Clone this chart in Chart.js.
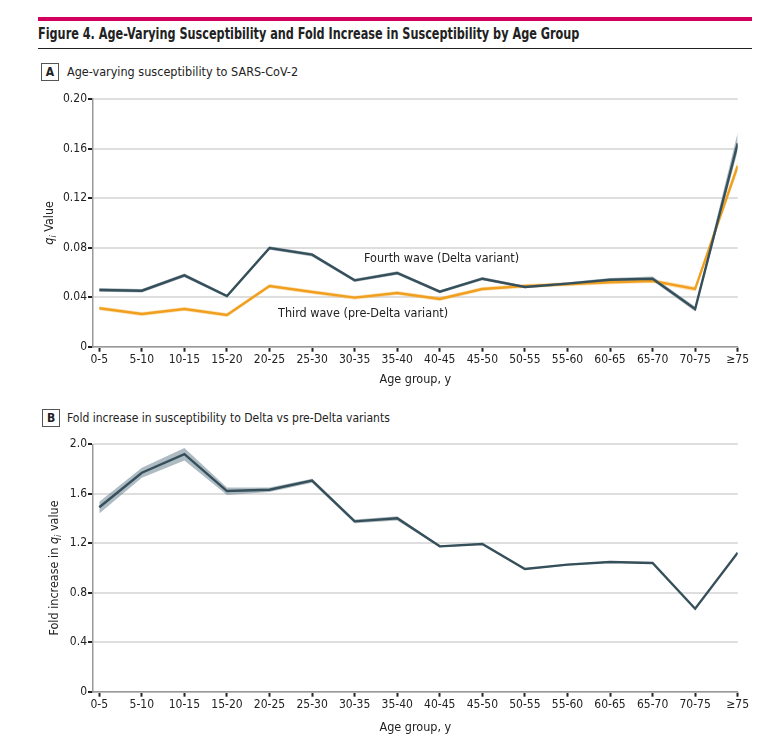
<!DOCTYPE html>
<html>
<head>
<meta charset="utf-8">
<script src="https://cdn.jsdelivr.net/npm/chart.js@4"></script>
<style>
    body { margin: 0; background: #fff; width: 769px; height: 747px; position: relative; overflow: hidden;
           font-family: 'DejaVu Sans Condensed', 'Liberation Sans Narrow', sans-serif; color: #222; }
    .abs { position: absolute; }
    .bar { left: 38px; top: 17px; width: 714px; height: 4px; background: #d4005f; }
    .rule { left: 38px; top: 47.5px; width: 714px; height: 1.5px; background: #222; }
    .fit { display: inline-block; white-space: nowrap; transform-origin: left center; }
    #title { left: 38px; top: 25px; font-size: 15px; font-weight: bold; line-height: 18px; }
    .box { width: 18px; height: 18px; box-sizing: border-box; border: 1px solid #555; font-size: 12px;
           font-weight: bold; text-align: center; line-height: 16px; }
    .head { font-size: 13px; line-height: 16px; }
    canvas { position: absolute; left: 0; }
</style>
</head>
<body>
<div class="abs bar"></div>
<div class="abs fit" id="title">Figure 4. Age-Varying Susceptibility and Fold Increase in Susceptibility by Age Group</div>
<div class="abs rule"></div>

<div class="abs box" style="left:41px; top:63px;">A</div>
<div class="abs fit head" id="headA" style="left:67px; top:64px;">Age-varying susceptibility to SARS-CoV-2</div>
<canvas id="chartA" width="769" height="305" style="top:85px;"></canvas>

<div class="abs box" style="left:42px; top:409px;">B</div>
<div class="abs fit head" id="headB" style="left:67px; top:410px;">Fold increase in susceptibility to Delta vs pre-Delta variants</div>
<canvas id="chartB" width="769" height="306" style="top:432px;"></canvas>

<script>
// data
const ageGroups = ['0-5', '5-10', '10-15', '15-20', '20-25', '25-30', '30-35', '35-40',
                   '40-45', '45-50', '50-55', '55-60', '60-65', '65-70', '70-75', '≥75'];

const fourthWave     = [0.0458, 0.0452, 0.0576, 0.0409, 0.0797, 0.0743, 0.0536, 0.0595, 0.0444, 0.0549, 0.0482, 0.0509, 0.0541, 0.0549, 0.0304, 0.1642];
const fourthWaveLow  = [0.0443, 0.0438, 0.0561, 0.0398, 0.0782, 0.0729, 0.0523, 0.0581, 0.0432, 0.0536, 0.0471, 0.0497, 0.0527, 0.0532, 0.0285, 0.1580];
const fourthWaveHigh = [0.0473, 0.0466, 0.0591, 0.0420, 0.0812, 0.0757, 0.0549, 0.0609, 0.0456, 0.0562, 0.0493, 0.0521, 0.0555, 0.0566, 0.0323, 0.1730];

const thirdWave     = [0.0310, 0.0264, 0.0304, 0.0256, 0.0490, 0.0442, 0.0396, 0.0434, 0.0385, 0.0466, 0.0490, 0.0504, 0.0520, 0.0530, 0.0466, 0.1459];
const thirdWaveLow  = [0.0294, 0.0248, 0.0288, 0.0240, 0.0474, 0.0426, 0.0380, 0.0418, 0.0369, 0.0450, 0.0474, 0.0488, 0.0504, 0.0514, 0.0445, 0.1420];
const thirdWaveHigh = [0.0326, 0.0280, 0.0320, 0.0272, 0.0506, 0.0458, 0.0412, 0.0450, 0.0401, 0.0482, 0.0506, 0.0520, 0.0536, 0.0546, 0.0487, 0.1500];

const foldIncrease     = [1.491, 1.770, 1.921, 1.622, 1.633, 1.706, 1.377, 1.402, 1.175, 1.194, 0.992, 1.027, 1.048, 1.040, 0.671, 1.124];
const foldIncreaseLow  = [1.440, 1.730, 1.870, 1.590, 1.615, 1.690, 1.362, 1.385, 1.168, 1.188, 0.986, 1.021, 1.042, 1.034, 0.665, 1.118];
const foldIncreaseHigh = [1.535, 1.810, 1.970, 1.650, 1.650, 1.722, 1.392, 1.418, 1.182, 1.200, 0.998, 1.033, 1.054, 1.046, 0.677, 1.130];

const yTicksA = ['0', '0.04', '0.08', '0.12', '0.16', '0.20'];
const yTicksB = ['0', '0.4', '0.8', '1.2', '1.6', '2.0'];

const DARK = '#36505b';
const DARK_BAND = 'rgba(110, 132, 143, 0.55)';
const ORANGE = '#f0a01e';
const ORANGE_BAND = 'rgba(245, 170, 50, 0.35)';
const FONT = "'DejaVu Sans Condensed', 'Liberation Sans Narrow', sans-serif";

Chart.defaults.font.family = FONT;
Chart.defaults.font.size = 12;
Chart.defaults.color = '#222';

document.addEventListener('DOMContentLoaded', () => {
    // squeeze the headings to the width they take in the figure
    const fitTo = (id, w) => {
        const el = document.getElementById(id);
        el.style.transform = `scaleX(${w / el.offsetWidth})`;
    };
    fitTo('title', 541);
    fitTo('headA', 231);
    fitTo('headB', 323);

    // rotated y title with italic q and subscript i, plus in-plot labels
    const textPlugin = {
        id: 'figText',
        afterDraw(chart, args, opts) {
            const { ctx, chartArea } = chart;
            ctx.save();
            ctx.fillStyle = '#222';
            ctx.textBaseline = 'middle';

            if (opts.yTitle) {
                const parts = opts.yTitle.parts;
                const fontOf = p => `${p.italic ? 'italic ' : ''}${p.sub ? 9 : 12.5}px ${FONT}`;
                let total = 0;
                parts.forEach(p => { ctx.font = fontOf(p); p.w = ctx.measureText(p.text).width; total += p.w; });
                ctx.translate(opts.yTitle.x, (chartArea.top + chartArea.bottom) / 2);
                ctx.rotate(-Math.PI / 2);
                let x = -total / 2;
                parts.forEach(p => {
                    ctx.font = fontOf(p);
                    ctx.textAlign = 'left';
                    ctx.fillText(p.text, x, p.sub ? 4 : 0);
                    x += p.w;
                });
                ctx.setTransform(1, 0, 0, 1, 0, 0);
            }

            (opts.labels || []).forEach(l => {
                ctx.font = `12.5px ${FONT}`;
                ctx.textAlign = 'left';
                const x = chart.scales.x.getPixelForValue(l.at);
                const y = chart.scales.y.getPixelForValue(l.value);
                ctx.fillText(l.text, x, y);
            });
            ctx.restore();
        }
    };

    // category index on x, so the axis can start a little before the first group
    const pts = arr => arr.map((v, i) => ({ x: i, y: v }));

    const bandSet = (data, fillTo, color, order) => ({
        data: pts(data), fill: fillTo, backgroundColor: color, borderWidth: 0, pointRadius: 0, tension: 0, order
    });
    const lineSet = (data, color, order) => ({
        data: pts(data), fill: false, borderColor: color, borderWidth: 2.4, pointRadius: 0, tension: 0, order
    });

    const scalesFor = (max, step, tickLabels, chartBottom, canvasBottom, titlePad) => ({
        x: {
            type: 'linear',
            min: -0.148, max: ageGroups.length - 1,
            border: { color: '#999', width: 1.5 },
            grid: { drawOnChartArea: false, drawTicks: true, tickLength: 5, tickColor: '#222', tickWidth: 2 },
            ticks: { stepSize: 1, includeBounds: false, padding: 1, maxRotation: 0, autoSkip: false,
                     color: '#222', font: { size: 12 },
                     callback: v => ageGroups[v] },
            title: { display: true, text: 'Age group, y', color: '#222', font: { size: 12.5 }, padding: { top: 0, bottom: titlePad } },
            afterFit: s => { s.height = canvasBottom - chartBottom; }
        },
        y: {
            min: 0, max,
            border: { color: '#999', width: 1.5 },
            grid: { color: '#dedede', lineWidth: 2, tickLength: 5, tickColor: '#222', tickWidth: 2 },
            ticks: { stepSize: step, padding: 1, color: '#222', font: { size: 12 },
                     callback: (v, i) => tickLabels[i] },
            afterFit: s => { s.width = 93; }
        }
    });

    // panel A
    new Chart(document.getElementById('chartA'), {
        type: 'line',
        data: {
            datasets: [
                bandSet(fourthWaveLow, false, 'transparent', 2),
                bandSet(fourthWaveHigh, 0, DARK_BAND, 2),
                bandSet(thirdWaveLow, false, 'transparent', 3),
                bandSet(thirdWaveHigh, 2, ORANGE_BAND, 3),
                lineSet(fourthWave, DARK, 0),
                lineSet(thirdWave, ORANGE, 1)
            ]
        },
        options: {
            responsive: false,
            animation: false,
            layout: { padding: { top: 14, right: 31.3, left: 0, bottom: 0 } },
            plugins: {
                legend: { display: false },
                tooltip: { enabled: false },
                figText: {
                    yTitle: { x: 50, parts: [{ text: 'q', italic: true }, { text: 'i', italic: true, sub: true }, { text: ' Value' }] },
                    labels: [
                        { text: 'Fourth wave (Delta variant)', at: 6.22, value: 0.0714 },
                        { text: 'Third wave (pre-Delta variant)', at: 4.20, value: 0.0264 }
                    ]
                }
            },
            scales: scalesFor(0.2, 0.04, yTicksA, 346.7 - 85, 305, 3)
        },
        plugins: [textPlugin]
    });

    // panel B
    new Chart(document.getElementById('chartB'), {
        type: 'line',
        data: {
            datasets: [
                bandSet(foldIncreaseLow, false, 'transparent', 2),
                bandSet(foldIncreaseHigh, 0, DARK_BAND, 2),
                lineSet(foldIncrease, DARK, 0)
            ]
        },
        options: {
            responsive: false,
            animation: false,
            layout: { padding: { top: 12.3, right: 31.3, left: 0, bottom: 0 } },
            plugins: {
                legend: { display: false },
                tooltip: { enabled: false },
                figText: {
                    yTitle: { x: 55, parts: [{ text: 'Fold increase in ' }, { text: 'q', italic: true }, { text: 'i', italic: true, sub: true }, { text: ' value' }] }
                }
            },
            scales: scalesFor(2.0, 0.4, yTicksB, 691.7 - 432, 306, 3)
        },
        plugins: [textPlugin]
    });
});
</script>
</body>
</html>
